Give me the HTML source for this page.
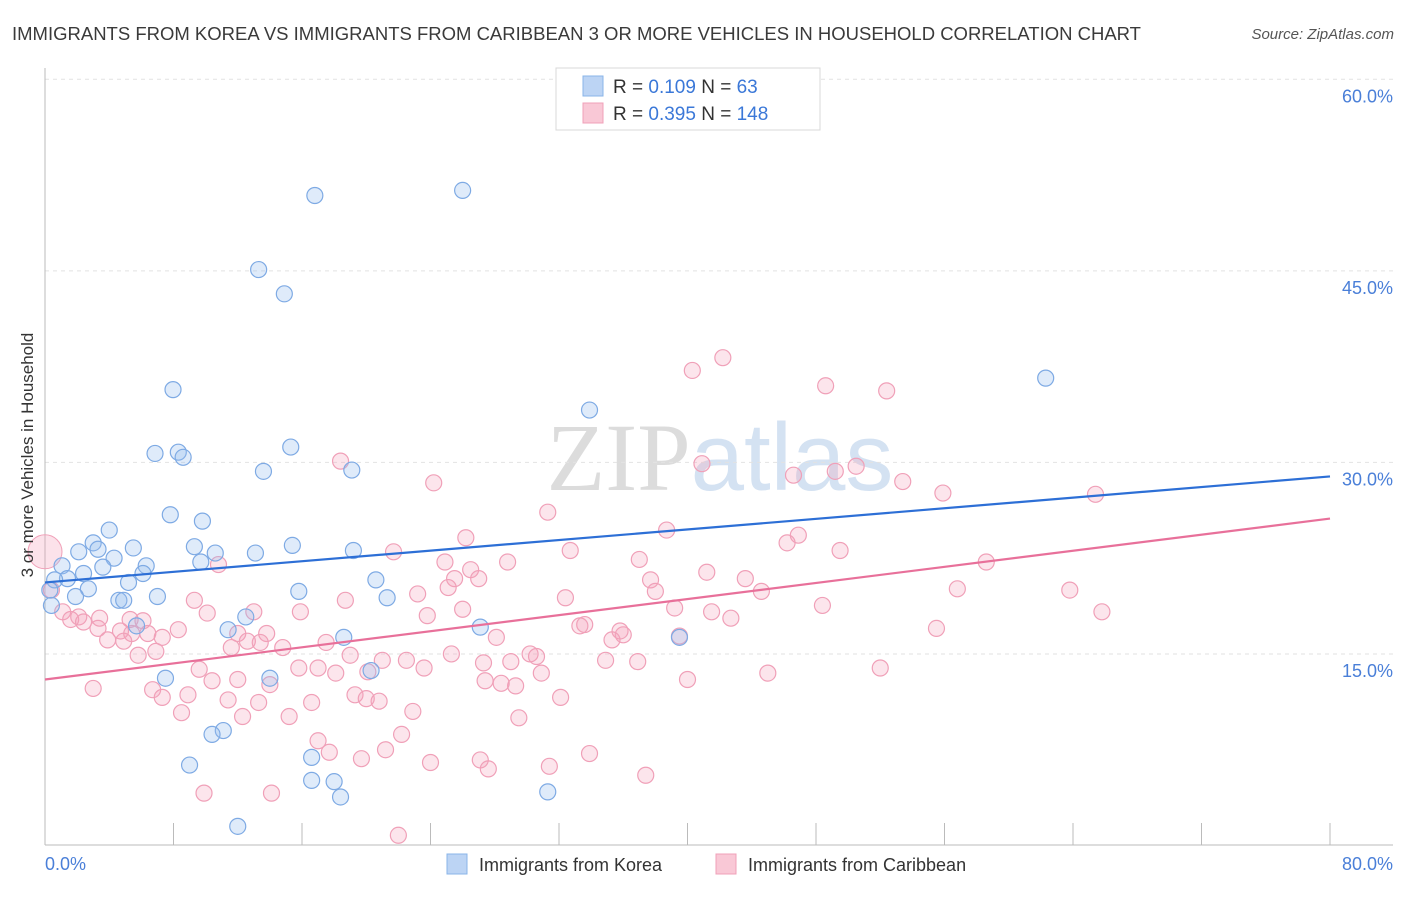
<!DOCTYPE html>
<html><head><meta charset="utf-8"><style>
body{margin:0;background:#fff;font-family:"Liberation Sans",sans-serif;}
svg text{font-family:"Liberation Sans",sans-serif;}
</style></head><body>
<svg id="chart" width="1406" height="892" viewBox="0 0 1406 892" xmlns="http://www.w3.org/2000/svg">
<text x="12" y="40" font-size="18.5" fill="#3a3a3a">IMMIGRANTS FROM KOREA VS IMMIGRANTS FROM CARIBBEAN 3 OR MORE VEHICLES IN HOUSEHOLD CORRELATION CHART</text>
<text x="1394" y="39" font-size="15" fill="#555" font-style="italic" text-anchor="end">Source: ZipAtlas.com</text>
<text x="720" y="490" font-size="96" text-anchor="middle" fill="#e4e4e4"><tspan font-family="Liberation Serif" fill="#dcdcdc">ZIP</tspan><tspan fill="#d4e2f2">atlas</tspan></text>
<g id="grid"></g>
<g id="axes"></g>
<g id="points"></g>
<g id="lines"></g>
<text transform="translate(33,455) rotate(-90)" font-size="17" fill="#333" text-anchor="middle">3 or more Vehicles in Household</text>
<text x="45" y="870" font-size="18" fill="#4a7fd8">0.0%</text>
<text x="1393" y="870" font-size="18" fill="#4a7fd8" text-anchor="end">80.0%</text>
<g>
<rect x="556" y="68" width="264" height="62" fill="#fff" stroke="#d8d8d8"/>
<rect x="583" y="76" width="20" height="20" fill="#bcd4f4" stroke="#8ab4e8"/>
<rect x="583" y="103" width="20" height="20" fill="#f9c8d6" stroke="#f0a0b8"/>
<text x="613" y="93" font-size="19" fill="#333">R = <tspan fill="#3b78d8">0.109</tspan>   N =  <tspan fill="#3b78d8">63</tspan></text>
<text x="613" y="120" font-size="19" fill="#333">R = <tspan fill="#3b78d8">0.395</tspan>   N = <tspan fill="#3b78d8">148</tspan></text>
</g>
<g>
<rect x="447" y="854" width="20" height="20" fill="#bcd4f4" stroke="#8ab4e8"/>
<text x="479" y="871" font-size="18" fill="#333">Immigrants from Korea</text>
</g>
<g>
<rect x="716" y="854" width="20" height="20" fill="#f9c8d6" stroke="#f0a0b8"/>
<text x="748" y="871" font-size="18" fill="#333">Immigrants from Caribbean</text>
</g>
</svg>
<script>
const yTicks=[15,30,45,60];
const yTickLabels=["15.0%","30.0%","45.0%","60.0%"];
const xTicks=[0,8,16,24,32,40,48,56,64,72,80];
const koreaX=[16.8,26.0,13.3,14.9,62.3,33.9,7.97,6.85,8.3,8.6,15.3,13.6,19.1,7.8,9.8,4.0,3.0,3.3,2.1,5.5,9.3,10.6,13.1,15.4,19.2,4.3,6.3,3.6,1.06,9.7,2.4,6.1,1.4,0.6,5.2,20.6,2.7,0.3,1.9,7.0,15.8,21.3,4.6,4.9,0.4,12.5,5.7,11.4,27.1,18.6,39.5,20.3,7.5,14.0,11.1,10.4,9.0,16.6,16.6,18.0,18.4,31.3,12.0];
const koreaY=[50.9,51.3,45.1,43.2,36.6,34.1,35.7,30.7,30.8,30.4,31.2,29.3,29.4,25.9,25.4,24.7,23.7,23.2,23.0,23.3,23.4,22.9,22.9,23.5,23.1,22.5,21.9,21.8,21.9,22.2,21.3,21.3,20.9,20.8,20.6,20.8,20.1,20.0,19.5,19.5,19.9,19.4,19.2,19.2,18.8,17.9,17.2,16.9,17.1,16.3,16.3,13.7,13.1,13.1,9.0,8.7,6.3,6.9,5.1,5.0,3.8,4.2,1.5];
const caribX=[42.2,40.3,48.6,52.4,18.4,40.9,49.2,50.5,46.6,24.2,53.4,55.9,65.4,31.3,38.7,46.9,46.2,26.2,21.7,32.7,49.5,58.6,10.8,24.9,37.0,28.8,26.5,41.2,25.5,27.0,37.7,43.6,38.0,44.6,25.1,63.8,56.8,18.7,23.2,32.4,9.3,15.9,26.0,39.2,41.5,48.4,65.8,10.1,23.8,42.7,55.5,1.1,2.1,3.4,1.6,2.4,5.3,6.1,13.0,3.3,4.7,5.4,6.4,8.3,3.9,4.9,13.8,12.0,12.6,13.4,7.3,28.1,33.6,36.0,33.3,35.8,35.3,39.5,11.6,14.8,17.5,6.9,19.0,21.0,25.3,5.8,30.2,30.6,34.9,36.9,22.5,23.6,15.8,17.0,18.1,20.1,27.3,29.0,30.9,45.0,52.0,9.6,12.0,10.4,14.0,27.4,28.4,29.3,40.0,3.0,6.7,7.3,8.9,19.3,20.0,20.8,32.1,11.4,13.3,16.6,8.5,12.3,15.2,22.9,29.5,22.2,17.0,17.7,21.2,19.7,27.1,33.9,24.0,31.4,27.6,37.4,9.9,14.1,22.0,0.4];
const caribY=[38.2,37.2,36.0,35.6,30.1,29.9,29.3,29.7,29.0,28.4,28.5,27.6,27.5,26.1,24.7,24.3,23.7,24.1,23.0,23.1,23.1,22.2,22.0,22.2,22.4,22.2,21.6,21.4,20.9,20.9,20.8,20.9,19.9,19.9,20.2,20.0,20.1,19.2,19.7,19.4,19.2,18.3,18.5,18.6,18.3,18.8,18.3,18.2,18.0,17.8,17.0,18.3,17.9,17.8,17.7,17.5,17.7,17.6,18.3,17.0,16.8,16.6,16.6,16.9,16.1,16.0,16.6,16.6,16.0,15.9,16.3,16.3,17.3,16.5,17.2,16.8,16.1,16.4,15.5,15.5,15.9,15.2,14.9,14.5,15.0,14.9,15.0,14.8,14.5,14.4,14.5,13.9,13.9,13.9,13.5,13.6,14.3,14.4,13.5,13.5,13.9,13.8,13.0,12.9,12.6,12.9,12.7,12.5,13.0,12.3,12.2,11.6,11.8,11.8,11.5,11.3,11.6,11.4,11.2,11.2,10.4,10.1,10.1,10.5,10.0,8.7,8.2,7.3,7.5,6.8,6.7,7.2,6.5,6.2,6.0,5.5,4.1,4.1,0.8,20.0];
const koreaTrend=[20.6,28.9];
const caribTrend=[13.0,25.6];

const NS="http://www.w3.org/2000/svg";
const X0=45,X1=1330,Y0=845.5,YS=12.77;
function sx(v){return X0+v*(X1-X0)/80;}
function sy(v){return Y0-v*YS;}
function mk(tag,attrs,parent){const e=document.createElementNS(NS,tag);for(const k in attrs)e.setAttribute(k,attrs[k]);parent.appendChild(e);return e;}
const grid=document.getElementById('grid'),axes=document.getElementById('axes'),pts=document.getElementById('points'),lines=document.getElementById('lines');
yTicks.forEach((t,i)=>{
  const l=mk('line',{x1:X0,x2:1393,y1:sy(t),y2:sy(t),stroke:'#e2e2e2','stroke-dasharray':'4,4'},grid);
  
  
  const tx=mk('text',{x:1393,y:sy(t)+23,'font-size':18,fill:'#4a7fd8','text-anchor':'end'},grid);
  tx.textContent=yTickLabels[i];
  
  
});
const ax=mk('line',{x1:X0,x2:X0,y1:68,y2:845,stroke:'#bbb'},axes);


const bx=mk('line',{x1:X0,x2:1393,y1:845,y2:845,stroke:'#bbb'},axes);


xTicks.forEach(t=>{
  const l=mk('line',{x1:sx(t),x2:sx(t),y1:823,y2:845,stroke:'#bbb'},axes);
  
  
});
const big=mk('circle',{cx:sx(0),cy:sy(23.0),r:17,fill:'rgba(244,160,185,0.3)',stroke:'#f0a0b8','stroke-width':1},pts);


caribX.forEach((x,i)=>{
  const c=mk('circle',{cx:sx(x),cy:sy(caribY[i]),r:8,fill:'rgba(244,160,185,0.28)',stroke:'#f0a0b8','stroke-width':1.2},pts);
  
  
});
koreaX.forEach((x,i)=>{
  const c=mk('circle',{cx:sx(x),cy:sy(koreaY[i]),r:8,fill:'rgba(150,190,240,0.3)',stroke:'#7eaae4','stroke-width':1.2},pts);
  
  
});
const kl=mk('line',{x1:sx(0),x2:sx(80),y1:sy(koreaTrend[0]),y2:sy(koreaTrend[1]),stroke:'#2d6fd6','stroke-width':2.2},lines);


const cl=mk('line',{x1:sx(0),x2:sx(80),y1:sy(caribTrend[0]),y2:sy(caribTrend[1]),stroke:'#e8709a','stroke-width':2.2},lines);


</script>
</body></html>
